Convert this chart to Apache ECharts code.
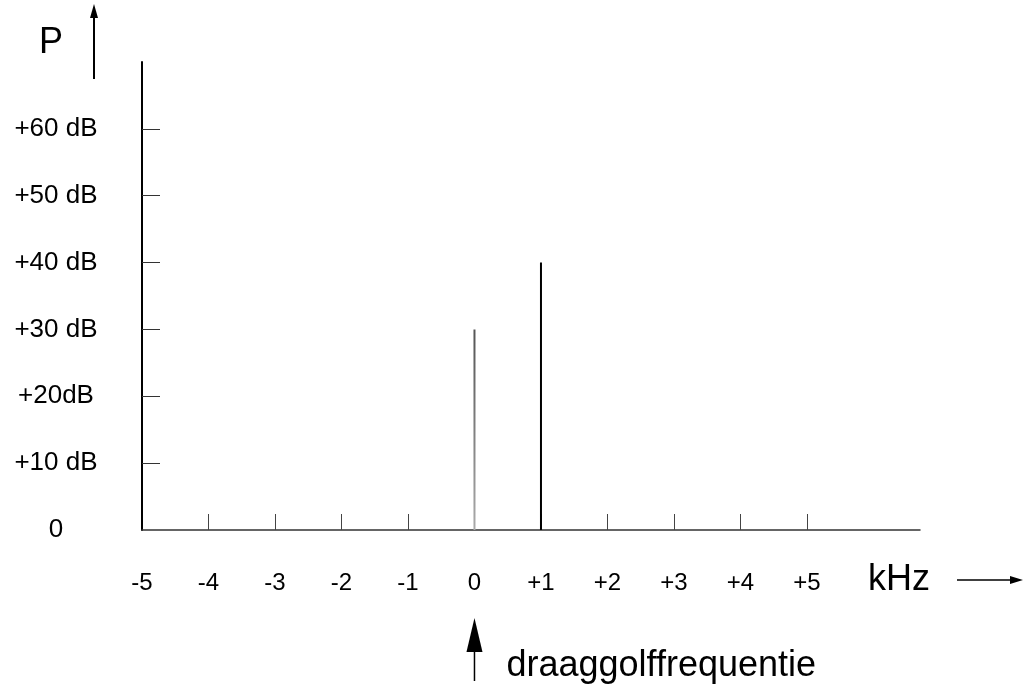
<!DOCTYPE html>
<html>
<head>
<meta charset="utf-8">
<script src="https://cdn.jsdelivr.net/npm/echarts@6/dist/echarts.min.js"></script>
<style>
  html, body { margin: 0; padding: 0; background: #fff; }
  #chart { width: 1026px; height: 694px; }
</style>
</head>
<body>
<div id="chart"></div>
<script>
// spectrum lines: frequency offset (kHz) and power (dB)
const freqKHz = [0, 1];
const powerDb = [30, 40];
const lineColors = ['#8a8a8a', '#000'];

// axis ticks
const xTickValues = [-5, -4, -3, -2, -1, 0, 1, 2, 3, 4, 5];
const xTickLabels = ['-5', '-4', '-3', '-2', '-1', '0', '+1', '+2', '+3', '+4', '+5'];
const yTickValues = [0, 10, 20, 30, 40, 50, 60];
const yTickLabels = ['0', '+10 dB', '+20dB', '+30 dB', '+40 dB', '+50 dB', '+60 dB'];

const FONT = '"Liberation Sans", Arial, sans-serif';

const myChart = echarts.init(document.getElementById('chart'));

const option = {
  backgroundColor: '#fff',
  animation: false,
  grid: { left: 142, right: 106, top: 62, bottom: 164 },
  xAxis: {
    type: 'value',
    min: -5,
    max: 6.7,
    splitLine: { show: false },
    axisLine: { show: true, onZero: false, lineStyle: { color: '#333', width: 1.5 } },
    axisTick: {
      show: true, inside: true, length: 16,
      customValues: xTickValues.slice(1),
      lineStyle: { color: '#444', width: 1 }
    },
    axisLabel: {
      customValues: xTickValues,
      margin: 41,
      color: '#000',
      fontSize: 24,
      fontFamily: FONT,
      formatter: (v) => xTickLabels[xTickValues.indexOf(v)]
    }
  },
  yAxis: {
    type: 'value',
    min: 0,
    max: 70,
    splitLine: { show: false },
    axisLine: { show: true, onZero: false, lineStyle: { color: '#000', width: 2 } },
    axisTick: {
      show: true, inside: true, length: 18,
      customValues: yTickValues.slice(1),
      lineStyle: { color: '#333', width: 1 }
    },
    axisLabel: {
      customValues: yTickValues,
      margin: 86,
      align: 'center',
      color: '#000',
      fontSize: 26,
      fontFamily: FONT,
      formatter: (v) => yTickLabels[yTickValues.indexOf(v)]
    }
  },
  series: [{
    type: 'bar',
    barWidth: 2,
    data: freqKHz.map((f, i) => ({
      value: [f, powerDb[i]],
      itemStyle: {
        color: i === 0
          ? new echarts.graphic.LinearGradient(0, 0, 0, 1, [
              { offset: 0, color: '#555' },
              { offset: 1, color: '#aaa' }
            ])
          : lineColors[i]
      }
    }))
  }]
};

myChart.setOption(option);

// annotations: axis arrows, "P", "kHz" and the carrier marker under 0 kHz
const carrierX = myChart.convertToPixel({ gridIndex: 0 }, [0, 0])[0];
myChart.setOption({
  graphic: [
    // P with upward arrow
    { type: 'text', left: 39, top: 25, style: { text: 'P', fontSize: 36, fontFamily: FONT, fill: '#000' } },
    { type: 'line', shape: { x1: 94, y1: 79, x2: 94, y2: 14 }, style: { stroke: '#000', lineWidth: 2 } },
    { type: 'polygon', shape: { points: [[94, 4], [90, 18], [98, 18]] }, style: { fill: '#000' } },
    // kHz with right arrow
    { type: 'text', left: 868, top: 562, style: { text: 'kHz', fontSize: 36, fontFamily: FONT, fill: '#000' } },
    { type: 'line', shape: { x1: 957, y1: 580, x2: 1012, y2: 580 }, style: { stroke: '#000', lineWidth: 1.5 } },
    { type: 'polygon', shape: { points: [[1023, 580], [1010, 576], [1010, 584]] }, style: { fill: '#000' } },
    // carrier frequency marker
    { type: 'polygon', shape: { points: [[carrierX, 618], [carrierX - 8, 652], [carrierX + 8, 652]] }, style: { fill: '#000' } },
    { type: 'line', shape: { x1: carrierX, y1: 650, x2: carrierX, y2: 681 }, style: { stroke: '#000', lineWidth: 1.5 } },
    { type: 'text', left: carrierX + 32, top: 648, style: { text: 'draaggolffrequentie', fontSize: 36, fontFamily: FONT, fill: '#000' } }
  ]
});

window.addEventListener('resize', function () {
  myChart && myChart.resize();
});
</script>
</body>
</html>
